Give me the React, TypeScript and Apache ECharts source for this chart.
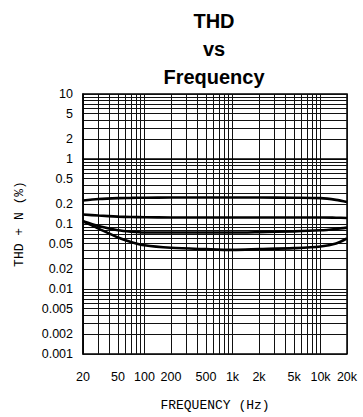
import React, { useEffect, useRef } from "react";
import * as echarts from "echarts";

// Frequencies (Hz) at which curves are sampled
const freqs = [20, 30, 50, 70, 100, 200, 500, 1000, 2000, 5000, 10000, 15000, 20000];
// THD+N (%) curves
const curveA = [0.23, 0.242, 0.25, 0.252, 0.254, 0.255, 0.255, 0.255, 0.255, 0.254, 0.25, 0.235, 0.218];
const curveB = [0.14, 0.135, 0.13, 0.128, 0.127, 0.126, 0.126, 0.126, 0.126, 0.126, 0.126, 0.125, 0.124];
const curveC = [0.11, 0.093, 0.08, 0.076, 0.074, 0.074, 0.074, 0.074, 0.075, 0.077, 0.08, 0.084, 0.088];
const curveD = [0.11, 0.085, 0.062, 0.053, 0.047, 0.043, 0.041, 0.04, 0.041, 0.0425, 0.045, 0.05, 0.06];

// Tick labels
const xLabels = [20, 50, 100, 200, 500, 1000, 2000, 5000, 10000, 20000];
const yLabels = [0.001, 0.002, 0.005, 0.01, 0.02, 0.05, 0.1, 0.2, 0.5, 1, 2, 5, 10];
// Grid lines
const xGrid = [20, 30, 40, 50, 60, 70, 80, 90, 100, 200, 300, 400, 500, 600, 700, 800, 900, 1000, 2000, 3000, 4000, 5000, 6000, 7000, 8000, 9000, 10000, 20000];
const yGrid = [
  0.001, 0.002, 0.003, 0.004, 0.005, 0.006, 0.007, 0.008, 0.009,
  0.01, 0.02, 0.03, 0.04, 0.05, 0.06, 0.07, 0.08, 0.09,
  0.1, 0.2, 0.3, 0.4, 0.5, 0.6, 0.7, 0.8, 0.9,
  1, 2, 3, 4, 5, 6, 7, 8, 9, 10,
];

const lg = (v: number) => Math.log10(v);

export default function App() {
  const ref = useRef<HTMLDivElement>(null);
  useEffect(() => {
    if (!ref.current) return;
    const chart = echarts.init(ref.current, null, { renderer: "svg" });
    const lineSeries = (vals: number[]) => ({
      type: "line",
      data: freqs.map((f, i) => [lg(f), lg(vals[i])]),
      showSymbol: false,
      smooth: 0.3,
      lineStyle: { color: "#000", width: 2.6 },
      silent: true,
    });
    chart.setOption({
      animation: false,
      grid: {
        left: 83,
        right: 16,
        top: 94,
        bottom: 61,
        show: true,
        borderColor: "#000",
        borderWidth: 1.5,
      },
      graphic: [
        {
          type: "text",
          x: 214,
          y: 7,
          style: {
            text: "THD\nvs\nFrequency",
            align: "center",
            verticalAlign: "top",
            fontFamily: "Liberation Sans, Arial, sans-serif",
            fontWeight: "bold",
            fontSize: 20,
            lineHeight: 28,
            fill: "#000",
          },
        },
      ],
      xAxis: {
        type: "value",
        min: lg(20),
        max: lg(20000),
        name: "FREQUENCY (Hz)",
        nameLocation: "middle",
        nameGap: 45,
        nameTextStyle: { fontFamily: "Liberation Mono, monospace", fontSize: 13, color: "#000" },
        axisLine: { show: true, lineStyle: { color: "#000", width: 1.5 } },
        axisTick: { show: false, customValues: xGrid.map(lg) },
        axisLabel: {
          customValues: xLabels.map(lg),
          hideOverlap: false,
          margin: 16,
          fontFamily: "Liberation Sans, Arial, sans-serif",
          fontSize: 12.5,
          color: "#000",
          formatter: (v: number) => {
            const f = Math.round(Math.pow(10, v));
            return f >= 1000 ? f / 1000 + "k" : String(f);
          },
        },
        splitLine: { show: true, lineStyle: { color: "#111", width: 1 } },
      },
      yAxis: {
        type: "value",
        min: -3,
        max: 1,
        name: "THD + N (%)",
        nameLocation: "middle",
        nameGap: 57,
        nameTextStyle: { fontFamily: "Liberation Mono, monospace", fontSize: 13, color: "#000" },
        axisLine: { show: true, lineStyle: { color: "#000", width: 1.5 } },
        axisTick: { show: false, customValues: yGrid.map(lg) },
        axisLabel: {
          customValues: yLabels.map(lg),
          hideOverlap: false,
          margin: 10,
          fontFamily: "Liberation Sans, Arial, sans-serif",
          fontSize: 12.5,
          color: "#000",
          formatter: (v: number) => String(Number(Math.pow(10, v).toPrecision(1))),
        },
        splitLine: { show: true, lineStyle: { color: "#111", width: 1 } },
      },
      series: [lineSeries(curveA), lineSeries(curveB), lineSeries(curveC), lineSeries(curveD)],
    });
    return () => chart.dispose();
  }, []);
  return (
    <div
      ref={ref}
      style={{ position: "absolute", left: 0, top: 0, width: 363, height: 417 }}
    />
  );
}
